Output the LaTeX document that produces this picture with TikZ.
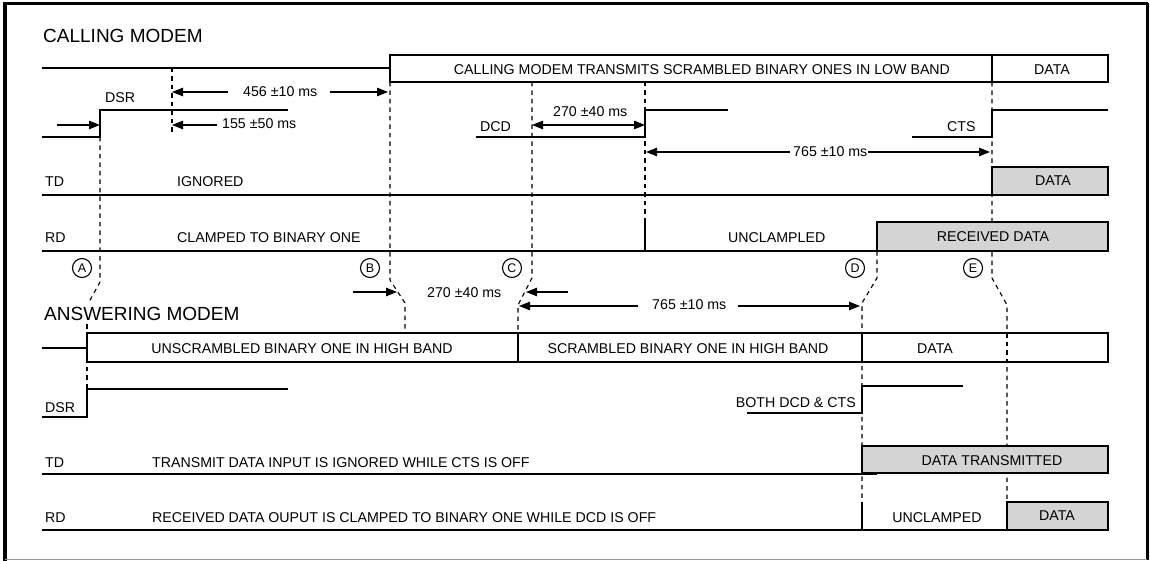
\documentclass[tikz,border=0pt]{standalone}
\usepackage{fontspec}
\setmainfont{Liberation Sans}
\usetikzlibrary{arrows.meta}
\begin{document}
\begin{tikzpicture}[x=1pt,y=-1pt,
  sigline/.style={line width=1.7pt},
  boxline/.style={line width=1.2pt},
  dline/.style={line width=1.1pt, dash pattern=on 4.5pt off 4pt},
  tipline/.style={-{Triangle[length=11pt,width=8.5pt]}, line width=1.1pt},
  dtipline/.style={{Triangle[length=11pt,width=8.5pt]}-{Triangle[length=11pt,width=8.5pt]}, line width=1.1pt},
  txt/.style={font=\fontsize{14.2}{16}\selectfont, inner sep=0pt, anchor=base west},
  ctxt/.style={font=\fontsize{14.2}{16}\selectfont, inner sep=0pt, anchor=base},
  ttl/.style={font=\fontsize{19}{22}\selectfont, inner sep=0pt, anchor=base west},
  cl/.style={circle, draw, line width=1.1pt, minimum size=19pt, inner sep=0pt, font=\fontsize{12.5}{13}\selectfont},
  shd/.style={fill=black!17, draw, line width=1.2pt}]
\useasboundingbox (0,0) rectangle (1150,561);
% frame
\draw[line width=4pt] (5,2) -- (5,561);
\draw[line width=3pt] (4,4) -- (1148,4);
\draw[line width=3pt] (1147,3) -- (1147,560);
\draw[line width=1pt, black!40] (5,559) -- (1147,559);

% titles
\node[ttl] (tcall) at (43,43) {CALLING MODEM};
\node[ttl] (tans) at (44,320) {ANSWERING MODEM};

% ---------------- dashed timing lines (behind) ----------------
\draw[dline] (172,68) -- (172,133);
\draw[dline] (100,137) -- (100,282) -- (89,302);
\draw[dline] (87,324) -- (87,389);
\draw[dline] (390,82) -- (390,280) -- (405,303) -- (405,333);
\draw[dline] (532,82) -- (532,278) -- (518,305) -- (518,333);
\draw[dline] (645,82) -- (645,222);
\draw[dline] (877,251) -- (877,278) -- (862,303) -- (862,530);
\draw[dline] (992,82) -- (992,278) -- (1007,305) -- (1007,530);

% ---------------- calling modem ----------------
% transmit line
\draw[sigline] (42,68) -- (390,68);
\draw[boxline, fill=white] (390,55) rectangle (1108,82);
\draw[boxline] (992,55) -- (992,82);
\node[ctxt] (ctx1) at (702,75) {CALLING MODEM TRANSMITS SCRAMBLED BINARY ONES IN LOW BAND};
\node[ctxt] (ctx2) at (1052,75) {DATA};

% DSR
\draw[sigline] (42,137) -- (100,137) -- (100,110) -- (288,110);
\node[txt] (cdsr) at (105,103) {DSR};
\coordinate (a0s) at (57,125);
\coordinate (a0e) at (100,125);
\draw[tipline] (a0s) -- (a0e);
% 456 ms
\coordinate (a1l) at (172,92);
\coordinate (a1m) at (228,92);
\coordinate (a1n) at (330,92);
\coordinate (a1r) at (388,92);
\draw[tipline] (a1m) -- (a1l);
\node[txt] (t456) at (243,97) {456 ±10 ms};
\draw[tipline] (a1n) -- (a1r);
% 155 ms
\coordinate (a2l) at (172,125);
\coordinate (a2m) at (217,125);
\draw[tipline] (a2m) -- (a2l);
\node[txt] (t155) at (222,129) {155 ±50 ms};

% DCD
\draw[sigline] (476,137) -- (645,137) -- (645,110) -- (728,110);
\node[txt] (cdcd) at (480,132) {DCD};
\coordinate (a3l) at (532,125);
\coordinate (a3r) at (645,125);
\draw[dtipline] (a3l) -- (a3r);
\node[txt] (t270a) at (553,117) {270 ±40 ms};
% 765 ms calling
\coordinate (a4l) at (646,152);
\coordinate (a4m) at (790,152);
\coordinate (a4n) at (868,152);
\coordinate (a4r) at (990,152);
\draw[tipline] (a4m) -- (a4l);
\node[txt] (t765a) at (793,157) {765 ±10 ms};
\draw[tipline] (a4n) -- (a4r);

% CTS
\draw[sigline] (912,137) -- (992,137) -- (992,110) -- (1108,110);
\node[txt] (ccts) at (947,132) {CTS};

% TD
\draw[sigline] (42,195) -- (992,195);
\draw[shd] (992,167) rectangle (1108,195);
\node[ctxt] (ctdd) at (1053,186) {DATA};
\node[txt] (ctd) at (45,187) {TD};
\node[txt] (cign) at (177,187) {IGNORED};

% RD
\draw[sigline] (42,251) -- (920,251);
\draw[sigline] (645,222) -- (645,251);
\draw[shd] (877,222) rectangle (1108,251);
\node[ctxt] (crdd) at (993,242) {RECEIVED DATA};
\node[txt] (crd) at (45,243) {RD};
\node[txt] (cclamp) at (177,243) {CLAMPED TO BINARY ONE};
\node[txt] (cuncl) at (728,243) {UNCLAMPLED};

% circle labels
\node[cl] (cA) at (82,268) {A};
\node[cl] (cB) at (370,268) {B};
\node[cl] (cC) at (512,268) {C};
\node[cl] (cD) at (855,268) {D};
\node[cl] (cE) at (973,268) {E};

% middle arrows
\coordinate (a5s) at (353,292);
\coordinate (a5e) at (397,292);
\draw[tipline] (a5s) -- (a5e);
\node[txt] (t270b) at (427,297) {270 ±40 ms};
\coordinate (a6s) at (568,292);
\coordinate (a6e) at (526,292);
\draw[tipline] (a6s) -- (a6e);
\coordinate (a7l) at (519,306);
\coordinate (a7m) at (638,306);
\coordinate (a7n) at (738,306);
\coordinate (a7r) at (860,306);
\draw[tipline] (a7m) -- (a7l);
\node[txt] (t765b) at (652,309) {765 ±10 ms};
\draw[tipline] (a7n) -- (a7r);

% ---------------- answering modem ----------------
\draw[sigline] (42,348) -- (87,348);
\draw[boxline, fill=white] (87,333) rectangle (1108,362);
\draw[boxline] (518,333) -- (518,362);
\draw[boxline] (862,333) -- (862,362);
\draw[dline] (1007,333) -- (1007,362);
\node[ctxt] (atx1) at (302,353) {UNSCRAMBLED BINARY ONE IN HIGH BAND};
\node[ctxt] (atx2) at (688,353) {SCRAMBLED BINARY ONE IN HIGH BAND};
\node[ctxt] (atx3) at (935,353) {DATA};

% DSR
\draw[sigline] (42,417) -- (87,417) -- (87,389) -- (288,389);
\node[txt] (adsr) at (45,412) {DSR};

% DCD & CTS
\draw[sigline] (747,413) -- (862,413) -- (862,386) -- (963,386);
\node[txt, anchor=base east] (aboth) at (856,407) {BOTH DCD \& CTS};

% TD
\draw[sigline] (42,474) -- (877,474);
\draw[shd] (862,446) rectangle (1108,473);
\node[ctxt] (atdd) at (992,465) {DATA TRANSMITTED};
\node[txt] (atd) at (45,467) {TD};
\node[txt] (atdt) at (152,467) {TRANSMIT DATA INPUT IS IGNORED WHILE CTS IS OFF};

% RD
\draw[sigline] (42,530) -- (1007,530);
\draw[sigline] (862,502) -- (862,530);
\draw[shd] (1007,502) rectangle (1108,530);
\node[ctxt] (ardd) at (1057,520) {DATA};
\node[ctxt] (auncl) at (937,522) {UNCLAMPED};
\node[txt] (ard) at (45,522) {RD};
\node[txt] (ardt) at (152,522) {RECEIVED DATA OUPUT IS CLAMPED TO BINARY ONE WHILE DCD IS OFF};
\end{tikzpicture}
\end{document}
